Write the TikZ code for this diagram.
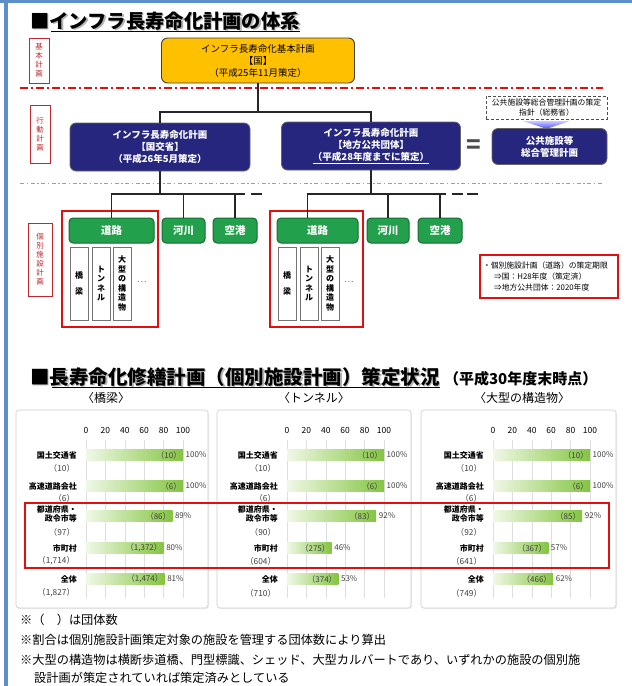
\documentclass[tikz,border=0pt]{standalone}
\usepackage{fontspec}
\setmainfont{Noto Sans CJK JP}
\usetikzlibrary{shadows,calc}
\definecolor{frameblue}{HTML}{5E8FCB}
\definecolor{kyellow}{HTML}{FFC000}
\definecolor{navy}{HTML}{26267F}
\definecolor{kgreen}{HTML}{22A04B}
\definecolor{kgreendk}{HTML}{176B31}
\definecolor{kred}{HTML}{E01010}
\definecolor{labred}{HTML}{C0282E}
\definecolor{barL}{HTML}{F0F8E6}
\definecolor{barR}{HTML}{84C441}
\newcommand\fs[2]{\fontsize{#1}{#2}\selectfont}
\tikzset{
  conn/.style={line width=1.4pt, draw=black!85},
  sect/.style={draw=labred, line width=0.7pt, fill=white, text=labred, font=\fs{7.5}{9}, align=center, inner sep=0pt, minimum width=20pt},
  ybox/.style={draw=black!75, line width=0.9pt, fill=kyellow, rounded corners=6pt, align=center, font=\fs{9.5}{12}, inner sep=0pt},
  nbox/.style={draw=black!60, line width=0.8pt, fill=navy, rounded corners=6pt, text=white, align=center, font=\bfseries\fs{9.5}{12}, inner sep=0pt},
  gbox/.style={draw=kgreendk, line width=1pt, fill=kgreen, rounded corners=4pt, text=white, font=\bfseries\fs{10.5}{12}, inner sep=0pt, minimum height=25pt},
  subbox/.style={draw=black!55, line width=0.7pt, fill=white, align=center, font=\bfseries\fs{8}{9.6}, inner sep=0pt, minimum width=18pt, minimum height=73pt, drop shadow={opacity=0.25, shadow xshift=1.2pt, shadow yshift=-1.2pt}},
  redframe/.style={draw=kred, line width=2pt, inner sep=0pt},
  panel/.style={draw=black!20, line width=0.6pt, fill=white, rounded corners=3pt, inner sep=0pt, drop shadow={opacity=0.12, shadow xshift=1.2pt, shadow yshift=-1.2pt}},
  rowname/.style={font=\bfseries\fs{8}{9}, anchor=east, inner sep=0pt, align=right},
  rowcount/.style={font=\fs{8.3}{9}, text=black!75, anchor=east, inner sep=0pt},
  barin/.style={font=\fs{8}{9}, text=black!75, anchor=east, inner sep=0pt},
  barpct/.style={font=\fs{8}{9}, text=black!75, anchor=west, inner sep=0pt},
  axislab/.style={font=\fs{8.5}{9}, inner sep=0pt},
  note/.style={font=\fs{12.2}{13}, anchor=west, inner sep=0pt},
  heading/.style={font=\fs{12}{13}, inner sep=0pt},
}
% grid and axis of one chart: #1 x of 0, #2 prefix
\newcommand\chartgrid[2]{%
  \foreach \k in {0,...,5}{
    \draw[black!13, line width=0.6pt] ({#1+19.4*\k},440) -- ({#1+19.4*\k},598);
    \pgfmathtruncatemacro\val{20*\k}
    \node[axislab] (#2ax\k) at ({#1+19.4*\k},430) {\val};
  }%
}
% one bar: #1 name, #2 x0, #3 y, #4 pct, #5 inner label, #6 pct label
\newcommand\mybar[6]{%
  \shade[left color=barL, right color=barR] (#2,#3-5.5) rectangle ({#2+0.97*#4},#3+5.5);
  \node[barin] (#1i) at ({#2+0.97*#4-1.5},#3) {#5};
  \node[barpct] (#1p) at ({#2+0.97*#4+2.5},#3) {#6};
}
% row labels: #1 x0, #2 prefix, #3..#7 counts
\newcommand\chartrows[7]{%
  \node[rowname] (#2na) at (#1-9,455) {国土交通省};
  \node[rowcount] (#2ca) at (#1-11,468) {#3};
  \node[rowname] (#2nb) at (#1-9,486) {高速道路会社};
  \node[rowcount] (#2cb) at (#1-11,498) {#4};
  \node[rowname] (#2nc) at (#1-9,514) {都道府県・\\政令市等};
  \node[rowcount] (#2cc) at (#1-11,532) {#5};
  \node[rowname] (#2nd) at (#1-9,548) {市町村};
  \node[rowcount] (#2cd) at (#1-11,561) {#6};
  \node[rowname] (#2ne) at (#1-9,579) {全体};
  \node[rowcount] (#2ce) at (#1-11,593) {#7};
}
\begin{document}
\begin{tikzpicture}[x=1pt,y=-1pt]
\useasboundingbox (0,0) rectangle (632,686);
\fill[white] (0,0) rectangle (632,686);
\fill[frameblue] (0,0) rectangle (632,3);
\fill[frameblue] (4,0) rectangle (8,686);

% ---- title 1
\node[anchor=west, inner sep=0pt, text=black!30, font=\bfseries\fs{19.3}{20}] (t1s) at (31.5,22.5) {■インフラ長寿命化計画の体系};
\node[anchor=west, inner sep=0pt, font=\bfseries\fs{19.3}{20}] (t1) at (30,21) {■インフラ長寿命化計画の体系};
\draw[line width=1.2pt] ($(t1.base west)+(21,3)$) -- ($(t1.base east)+(0,3)$);

% ---- section labels
\node[sect, minimum height=45pt] (lab1) at (39,60.5) {基\\本\\計\\画};
\node[sect, minimum height=58pt] (lab2) at (40,134) {行\\動\\計\\画};
\node[sect, minimum height=73pt, minimum width=24pt] (lab3) at (40,259.5) {個\\別\\施\\設\\計\\画};

% ---- separator lines
\coordinate (s1a) at (20,88); \coordinate (s1b) at (603,88);
\coordinate (s2a) at (20,183); \coordinate (s2b) at (603,183);
\draw[kred, line width=1.2pt, dash pattern=on 8pt off 3pt on 2pt off 3pt] (s1a) -- (s1b);
\draw[kred!55, line width=1pt, dash pattern=on 4pt off 2.5pt on 1.5pt off 2.5pt] (s2a) -- (s2b);

% ---- plans
\node[ybox, minimum width=193pt, minimum height=45pt] (kihon) at (258,60.5) {インフラ長寿命化基本計画\\【国】\\（平成25年11月策定）};
\node[nbox, minimum width=180pt, minimum height=48pt] (kokko) at (160,147) {インフラ長寿命化計画\\【国交省】\\（平成26年5月策定）};
\node[nbox, minimum width=179pt, minimum height=48pt] (chiho) at (371,146) {インフラ長寿命化計画\\【地方公共団体】\\\underline{（平成28年度までに策定）}};
\node[draw=black!70, dash pattern=on 3pt off 2pt, line width=0.8pt, minimum width=121pt, minimum height=23pt, align=center, font=\fs{7.8}{10}, inner sep=0pt] (shishin) at (546.5,107.5) {公共施設等総合管理計画の策定\\指針（総務省）};
\shade[top color=blue!20, bottom color=blue!70] ($(shishin.south)+(-24,1.5)$) -- ($(shishin.south)+(24,1.5)$) -- ($(shishin.south)+(0,9.5)$) -- cycle;
\node[nbox, minimum width=115pt, minimum height=36pt] (sogo) at (549.5,146.5) {公共施設等\\総合管理計画};
\node[font=\bfseries\fs{24}{24}, text=black!70, inner sep=0pt] (eq) at (474,147) {=};

\coordinate (jtop) at (258,112);
\draw[conn] (kihon.south) -- (jtop);
\draw[conn] (kokko.north) |- (jtop) -| (chiho.north);

% ---- individual plans
\node[redframe, minimum width=96pt, minimum height=116pt] (frame1) at (110,269) {};
\node[redframe, minimum width=93pt, minimum height=116pt] (frame2) at (316.5,269) {};

\node[gbox, minimum width=85pt] (road1) at (111.5,230.5) {道路};
\node[gbox, minimum width=43pt] (kawa1) at (183.5,230.5) {河川};
\node[gbox, minimum width=44pt] (kuko1) at (235,230.5) {空港};
\node[gbox, minimum width=81pt] (road2) at (317.5,230.5) {道路};
\node[gbox, minimum width=42pt] (kawa2) at (388,230.5) {河川};
\node[gbox, minimum width=44pt] (kuko2) at (440,230.5) {空港};

\coordinate (jl) at (160,194);
\coordinate (jle) at (245,194);
\coordinate (jld) at (268,194);
\draw[conn] (kokko.south) -- (jl);
\draw[conn] (road1.north) |- (jle);
\draw[conn] (kawa1.north) -- (kawa1.north |- jle);
\draw[conn] (kuko1.north) -- (kuko1.north |- jle);
\draw[conn, dash pattern=on 0pt off 6pt on 11pt off 20pt] (jle) -- (jld);

\coordinate (jr) at (371,194);
\coordinate (jre) at (446,194);
\coordinate (jrd) at (478,194);
\coordinate (r2top) at ($(road2.north)+(-10,0)$);
\draw[conn] (chiho.south) -- (jr);
\draw[conn] (r2top) |- (jre);
\draw[conn] (kawa2.north) -- (kawa2.north |- jre);
\draw[conn] (kuko2.north) -- (kuko2.north |- jre);
\draw[conn, dash pattern=on 0pt off 6pt on 11pt off 4pt on 11pt off 20pt] (jre) -- (jrd);

\node[subbox] (kyo1) at (79,283.5) {橋\\[7pt]梁};
\node[subbox] (tun1) at (101,283.5) {ト\\ン\\ネ\\ル};
\node[subbox] (dai1) at (122,283.5) {大\\型\\の\\構\\造\\物};
\node[font=\fs{9}{9}, text=black!55, inner sep=0pt] (dots1) at (142,282) {…};
\node[subbox] (kyo2) at (287,283.5) {橋\\[7pt]梁};
\node[subbox] (tun2) at (309,283.5) {ト\\ン\\ネ\\ル};
\node[subbox] (dai2) at (330,283.5) {大\\型\\の\\構\\造\\物};
\node[font=\fs{9}{9}, text=black!55, inner sep=0pt] (dots2) at (349,282) {…};

\node[redframe, minimum width=138pt, minimum height=43pt, text width=132pt, align=left, font=\fs{7.8}{11}] (info) at (549,276.5) {・個別施設計画（道路）の策定期限\\\hspace*{11pt}⇒国：H28年度（策定済）\\\hspace*{11pt}⇒地方公共団体：2020年度};

% ---- title 2
\node[anchor=west, inner sep=0pt, text=black!30, font=\bfseries\fs{19.5}{20}] (t2s) at (31.5,378.5) {■長寿命化修繕計画（個別施設計画）策定状況};
\node[anchor=west, inner sep=0pt, font=\bfseries\fs{19.5}{20}] (t2) at (30,377) {■長寿命化修繕計画（個別施設計画）策定状況};
\draw[line width=1.2pt] ($(t2.base west)+(21.5,3)$) -- ($(t2.base east)+(0,3)$);
\node[anchor=west, inner sep=0pt, font=\bfseries\fs{15}{16}] (t2b) at ($(t2.east)+(4,1.5)$) {（平成30年度末時点）};

\node[heading] (h1) at (106,398) {〈橋梁〉};
\node[heading] (h2) at (314,398) {〈トンネル〉};
\node[heading] (h3) at (522,398) {〈大型の構造物〉};

\node[panel, minimum width=192pt, minimum height=198pt] (pan1) at (112,509) {};
\node[panel, minimum width=194pt, minimum height=198pt] (pan2) at (314,509) {};
\node[panel, minimum width=195pt, minimum height=198pt] (pan3) at (518.5,509) {};

\chartgrid{86}{a}
\chartgrid{287}{b}
\chartgrid{493}{c}

\chartrows{86}{a}{（10）}{（6）}{（97）}{（1,714）}{（1,827）}
\chartrows{287}{b}{（10）}{（6）}{（90）}{（604）}{（710）}
\chartrows{493}{c}{（10）}{（6）}{（92）}{（641）}{（749）}

\mybar{a1}{86}{455}{100}{（10）}{100\%}
\mybar{a2}{86}{486}{100}{（6）}{100\%}
\mybar{a3}{86}{516}{89}{（86）}{89\%}
\mybar{a4}{86}{548}{80}{（1,372）}{80\%}
\mybar{a5}{86}{579}{81}{（1,474）}{81\%}

\mybar{b1}{287}{455}{100}{（10）}{100\%}
\mybar{b2}{287}{486}{100}{（6）}{100\%}
\mybar{b3}{287}{516}{92}{（83）}{92\%}
\mybar{b4}{287}{548}{46}{（275）}{46\%}
\mybar{b5}{287}{579}{53}{（374）}{53\%}

\mybar{c1}{493}{455}{100}{（10）}{100\%}
\mybar{c2}{493}{486}{100}{（6）}{100\%}
\mybar{c3}{493}{516}{92}{（85）}{92\%}
\mybar{c4}{493}{548}{57}{（367）}{57\%}
\mybar{c5}{493}{579}{62}{（466）}{62\%}

\node[redframe, minimum width=584pt, minimum height=65pt] (hl) at (317,535.5) {};

% ---- notes
\node[note] (n1) at (20,620) {※（　）は団体数};
\node[note] (n2) at (20,640) {※割合は個別施設計画策定対象の施設を管理する団体数により算出};
\node[note] (n3) at (20,660) {※大型の構造物は横断歩道橋、門型標識、シェッド、大型カルバートであり、いずれかの施設の個別施};
\node[note] (n4) at (34,678) {設計画が策定されていれば策定済みとしている};
\end{tikzpicture}
\end{document}
